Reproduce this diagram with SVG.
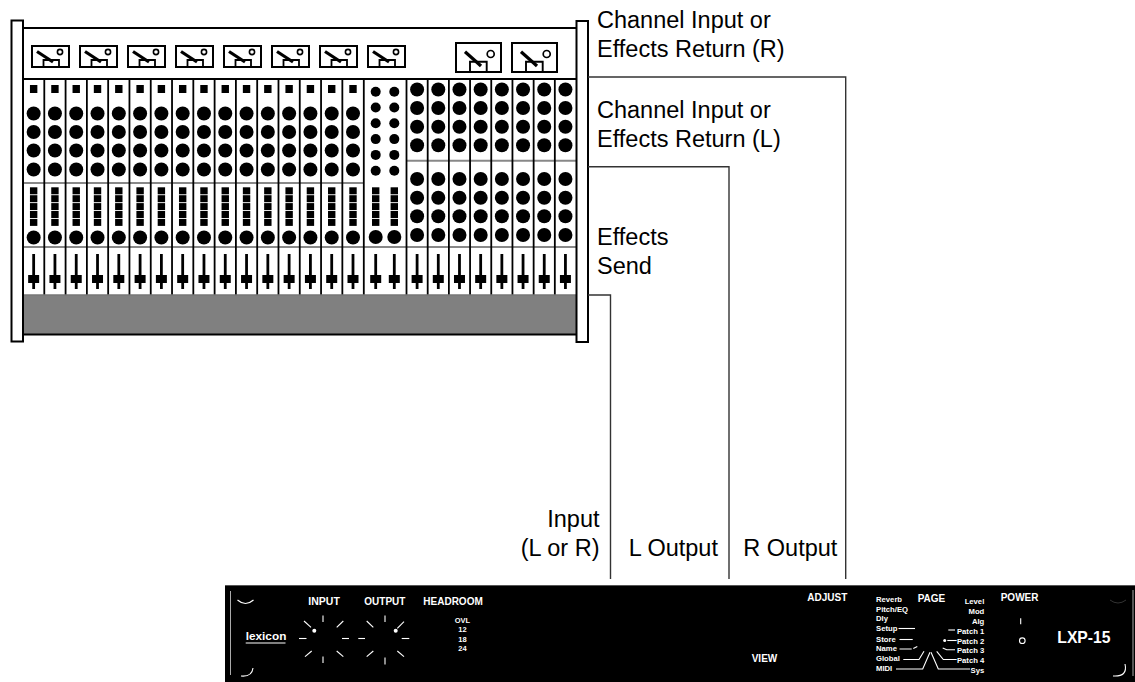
<svg xmlns="http://www.w3.org/2000/svg" width="1135" height="682" viewBox="0 0 1135 682">
<style>
.lbl{font-family:"Liberation Sans",Arial,sans-serif;font-size:23.5px;fill:#000}
.pt{font-family:"Liberation Sans",Arial,sans-serif;font-weight:bold;fill:#fff}
.s10{font-size:10px}
.s7{font-size:7.7px}
.sep{stroke:#888;stroke-width:2}
.vb{stroke:#000;stroke-width:1.8}
.conn{fill:none;stroke:#333;stroke-width:1.4}
.w{stroke:#fff;stroke-width:1.1;fill:none}
.mbox{fill:#fff;stroke:#000;stroke-width:2}
</style>
<defs>
  <g id="fd">
    <line x1="0" y1="254" x2="0" y2="289" stroke="#000" stroke-width="2.8"/>
    <rect x="-5.5" y="275" width="11" height="8"/>
  </g>
  <g id="ms">
    <rect x="-3.7" y="187.3" width="7.4" height="7"/>
    <rect x="-3.7" y="195.2" width="7.4" height="7"/>
    <rect x="-3.7" y="203.1" width="7.4" height="7"/>
    <rect x="-3.7" y="211" width="7.4" height="7"/>
    <rect x="-3.7" y="218.9" width="7.4" height="7"/>
  </g>
  <g id="mono">
    <rect x="-3.7" y="85" width="7.4" height="8"/>
    <circle cx="0" cy="113.5" r="7"/>
    <circle cx="0" cy="132" r="7"/>
    <circle cx="0" cy="150.5" r="7"/>
    <circle cx="0" cy="169.5" r="7"/>
    <use href="#ms"/>
    <circle cx="0" cy="237.5" r="7"/>
    <use href="#fd"/>
  </g>
  <g id="rs">
    <circle cx="0" cy="89.5" r="7"/>
    <circle cx="0" cy="108" r="7"/>
    <circle cx="0" cy="126.7" r="7"/>
    <circle cx="0" cy="145.3" r="7"/>
    <circle cx="0" cy="179" r="7"/>
    <circle cx="0" cy="197.7" r="7"/>
    <circle cx="0" cy="216.3" r="7"/>
    <circle cx="0" cy="235" r="7"/>
    <use href="#fd"/>
  </g>
  <g id="mcol">
    <circle cx="0" cy="91.7" r="5"/>
    <circle cx="0" cy="107.5" r="5"/>
    <circle cx="0" cy="123.3" r="5"/>
    <circle cx="0" cy="139.1" r="5"/>
    <circle cx="0" cy="154.9" r="5"/>
    <circle cx="0" cy="170.7" r="5"/>
    <use href="#ms"/>
    <circle cx="0" cy="237" r="7"/>
    <use href="#fd"/>
  </g>
  <g id="meterS">
    <rect class="mbox" x="0" y="0" width="37" height="21"/>
    <line x1="5" y1="5.5" x2="21" y2="16" stroke="#000" stroke-width="3.2"/>
    <path d="M11.5,21 V14 H27 V21" fill="none" stroke="#000" stroke-width="1.8"/>
    <circle cx="28" cy="6" r="2.6" fill="none" stroke="#000" stroke-width="1.6"/>
  </g>
  <g id="meterL">
    <rect class="mbox" x="0" y="0" width="45" height="29"/>
    <line x1="9" y1="8.7" x2="25" y2="23" stroke="#000" stroke-width="3.2"/>
    <path d="M14,29 V18.7 H30.7 V29" fill="none" stroke="#000" stroke-width="1.9"/>
    <circle cx="34.7" cy="11" r="3.5" fill="none" stroke="#000" stroke-width="1.7"/>
  </g>
</defs>

<g id="mixer">
  <rect x="23" y="28" width="553" height="51" fill="#fff"/>
  <line x1="23" y1="28" x2="576" y2="28" stroke="#000" stroke-width="2"/>
  <rect x="23" y="79" width="553" height="216" fill="#fff"/>
  <line x1="23" y1="79" x2="576" y2="79" stroke="#000" stroke-width="2"/>
  <g id="meters">
    <use href="#meterS" x="32" y="46"/>
    <use href="#meterS" x="80" y="46"/>
    <use href="#meterS" x="128" y="46"/>
    <use href="#meterS" x="176" y="46"/>
    <use href="#meterS" x="224" y="46"/>
    <use href="#meterS" x="272" y="46"/>
    <use href="#meterS" x="320" y="46"/>
    <use href="#meterS" x="368" y="46"/>
    <use href="#meterL" x="456" y="43"/>
    <use href="#meterL" x="512" y="43"/>
  </g>
  <g id="separators">
    <line class="sep" x1="23" y1="183" x2="364" y2="183"/>
    <line class="sep" x1="406.5" y1="160.7" x2="576" y2="160.7"/>
    <line class="sep" x1="23" y1="247" x2="576" y2="247"/>
  </g>
  <g id="strip-borders">
    <line class="vb" x1="44.29" y1="79" x2="44.29" y2="295"/>
    <line class="vb" x1="65.58" y1="79" x2="65.58" y2="295"/>
    <line class="vb" x1="86.87" y1="79" x2="86.87" y2="295"/>
    <line class="vb" x1="108.16" y1="79" x2="108.16" y2="295"/>
    <line class="vb" x1="129.45" y1="79" x2="129.45" y2="295"/>
    <line class="vb" x1="150.74" y1="79" x2="150.74" y2="295"/>
    <line class="vb" x1="172.03" y1="79" x2="172.03" y2="295"/>
    <line class="vb" x1="193.32" y1="79" x2="193.32" y2="295"/>
    <line class="vb" x1="214.61" y1="79" x2="214.61" y2="295"/>
    <line class="vb" x1="235.9" y1="79" x2="235.9" y2="295"/>
    <line class="vb" x1="257.19" y1="79" x2="257.19" y2="295"/>
    <line class="vb" x1="278.48" y1="79" x2="278.48" y2="295"/>
    <line class="vb" x1="299.77" y1="79" x2="299.77" y2="295"/>
    <line class="vb" x1="321.06" y1="79" x2="321.06" y2="295"/>
    <line class="vb" x1="342.35" y1="79" x2="342.35" y2="295"/>
    <line class="vb" x1="363.8" y1="79" x2="363.8" y2="295"/>
    <line class="vb" x1="406.5" y1="79" x2="406.5" y2="295"/>
    <line class="vb" x1="427.69" y1="79" x2="427.69" y2="295"/>
    <line class="vb" x1="448.88" y1="79" x2="448.88" y2="295"/>
    <line class="vb" x1="470.07" y1="79" x2="470.07" y2="295"/>
    <line class="vb" x1="491.26" y1="79" x2="491.26" y2="295"/>
    <line class="vb" x1="512.45" y1="79" x2="512.45" y2="295"/>
    <line class="vb" x1="533.64" y1="79" x2="533.64" y2="295"/>
    <line class="vb" x1="554.83" y1="79" x2="554.83" y2="295"/>
  </g>
  <g id="mono-strips">
    <use href="#mono" x="33.65"/>
    <use href="#mono" x="54.94"/>
    <use href="#mono" x="76.23"/>
    <use href="#mono" x="97.52"/>
    <use href="#mono" x="118.81"/>
    <use href="#mono" x="140.1"/>
    <use href="#mono" x="161.39"/>
    <use href="#mono" x="182.68"/>
    <use href="#mono" x="203.97"/>
    <use href="#mono" x="225.26"/>
    <use href="#mono" x="246.55"/>
    <use href="#mono" x="267.84"/>
    <use href="#mono" x="289.13"/>
    <use href="#mono" x="310.42"/>
    <use href="#mono" x="331.71"/>
    <use href="#mono" x="353"/>
  </g>
  <g id="master">
    <use href="#mcol" x="375.7"/>
    <use href="#mcol" x="394.3"/>
  </g>
  <g id="stereo-strips">
    <use href="#rs" x="417.1"/>
    <use href="#rs" x="438.29"/>
    <use href="#rs" x="459.48"/>
    <use href="#rs" x="480.67"/>
    <use href="#rs" x="501.86"/>
    <use href="#rs" x="523.05"/>
    <use href="#rs" x="544.24"/>
    <use href="#rs" x="565.43"/>
  </g>
  <rect x="23" y="295" width="553" height="39" fill="#808080"/>
  <line x1="23" y1="295" x2="576" y2="295" stroke="#777" stroke-width="1.5"/>
  <line x1="23" y1="334.5" x2="576" y2="334.5" stroke="#000" stroke-width="2"/>
  <rect x="11.5" y="20.5" width="11.5" height="321" fill="#fff" stroke="#000" stroke-width="2"/>
  <rect x="576.5" y="21" width="11.5" height="321" fill="#fff" stroke="#000" stroke-width="2"/>
</g>

<g id="connectors">
  <path class="conn" d="M588,77 H845.7 V579"/>
  <path class="conn" d="M588,166.7 H729 V579"/>
  <path class="conn" d="M588,295 H610.5 V579"/>
</g>

<g id="labels">
  <text class="lbl" x="597" y="28">Channel Input or</text>
  <text class="lbl" x="597" y="57">Effects Return (R)</text>
  <text class="lbl" x="597" y="118">Channel Input or</text>
  <text class="lbl" x="597" y="147">Effects Return (L)</text>
  <text class="lbl" x="597" y="245">Effects</text>
  <text class="lbl" x="597" y="273.5">Send</text>
  <text class="lbl" x="599.5" y="527" text-anchor="end">Input</text>
  <text class="lbl" x="599.5" y="555.5" text-anchor="end">(L or R)</text>
  <text class="lbl" x="628.7" y="555.5">L Output</text>
  <text class="lbl" x="743.3" y="555.5">R Output</text>
</g>

<g id="lxp15">
  <rect x="225" y="585" width="910" height="97" fill="#000"/>
  <line x1="225" y1="585.5" x2="1135" y2="585.5" stroke="#555" stroke-width="1"/>
  <line x1="230.5" y1="591" x2="230.5" y2="675" stroke="#aaa" stroke-width="1"/>
  <line x1="1133" y1="590" x2="1133" y2="676" stroke="#aaa" stroke-width="1"/>
  <path class="w" d="M237.5,600 Q245.5,607 253.5,600"/>
  <path class="w" d="M241,676 Q252,677 253,668"/>
  <path d="M1110,600 Q1118,606 1126,600" fill="none" stroke="#333" stroke-width="1"/>
  <path class="w" d="M1113,676 Q1128,677 1125,664"/>

  <text class="pt" x="245.7" y="639.5" font-size="11.8">lexicon</text>
  <line class="w" x1="245.7" y1="643" x2="285.5" y2="643" stroke-width="1.2"/>

  <text class="pt" x="308.3" y="605" font-size="10.5">INPUT</text>
  <text class="pt s10" x="364.3" y="605">OUTPUT</text>
  <text class="pt s10" x="423.3" y="605">HEADROOM</text>
  <g text-anchor="middle">
    <text class="pt" x="462.5" y="622.7" font-size="7.5">OVL</text>
    <text class="pt" x="462.5" y="632.3" font-size="7.5">12</text>
    <text class="pt" x="462.5" y="641.7" font-size="7.5">18</text>
    <text class="pt" x="462.5" y="651" font-size="7.5">24</text>
  </g>

  <g id="knob-input" class="w" stroke-width="1.2">
    <line x1="323" y1="615.5" x2="323" y2="622"/>
    <line x1="323" y1="656.5" x2="323" y2="663"/>
    <line x1="299" y1="638.5" x2="306.5" y2="638.5"/>
    <line x1="342" y1="638.5" x2="349" y2="638.5"/>
    <line x1="304" y1="621" x2="311" y2="627.3"/>
    <line x1="336.7" y1="627.3" x2="343.3" y2="621"/>
    <line x1="305" y1="656.7" x2="311.7" y2="651"/>
    <line x1="336.7" y1="651" x2="343.3" y2="656.7"/>
  </g>
  <circle cx="314.3" cy="630.7" r="2" fill="#fff"/>

  <g id="knob-output" class="w" stroke-width="1.2">
    <line x1="385" y1="615.5" x2="385" y2="622"/>
    <line x1="385" y1="657.5" x2="385" y2="664.5"/>
    <line x1="358.3" y1="638.5" x2="365" y2="638.5"/>
    <line x1="401.7" y1="638.5" x2="409.3" y2="638.5"/>
    <line x1="366.7" y1="621" x2="373.3" y2="627.3"/>
    <line x1="397.3" y1="628.3" x2="404" y2="621.7"/>
    <line x1="366.7" y1="656.7" x2="373.3" y2="651"/>
    <line x1="397.3" y1="651" x2="404" y2="656.7"/>
  </g>
  <circle cx="395.7" cy="630.7" r="2" fill="#fff"/>

  <text class="pt s10" x="751.7" y="661.7">VIEW</text>
  <text class="pt s10" x="807.3" y="601">ADJUST</text>
  <text class="pt s10" x="917.7" y="601.7">PAGE</text>
  <text class="pt s10" x="1000.7" y="601">POWER</text>
  <text class="pt" x="1057.3" y="643.3" font-size="15.7">LXP-15</text>
  <line class="w" x1="1020.7" y1="618.3" x2="1020.7" y2="624.3" stroke-width="1.3"/>
  <circle class="w" cx="1022.3" cy="640.7" r="2.8" stroke-width="1.2"/>

  <g id="page-left">
    <text class="pt s7" x="876" y="602.3">Reverb</text>
    <text class="pt s7" x="876" y="611.7">Pitch/EQ</text>
    <text class="pt s7" x="876" y="621.3">Dly</text>
    <text class="pt s7" x="876" y="631">Setup</text>
    <text class="pt s7" x="876" y="641.5">Store</text>
    <text class="pt s7" x="876" y="651">Name</text>
    <text class="pt s7" x="876" y="661">Global</text>
    <text class="pt s7" x="876" y="670.7">MIDI</text>
  </g>
  <g id="page-right" text-anchor="end">
    <text class="pt s7" x="984.3" y="604.3">Level</text>
    <text class="pt s7" x="984.3" y="614.3">Mod</text>
    <text class="pt s7" x="984.3" y="623.8">Alg</text>
    <text class="pt s7" x="984.3" y="634">Patch 1</text>
    <text class="pt s7" x="984.3" y="644">Patch 2</text>
    <text class="pt s7" x="984.3" y="653.3">Patch 3</text>
    <text class="pt s7" x="984.3" y="663.3">Patch 4</text>
    <text class="pt s7" x="984.3" y="672.7">Sys</text>
  </g>
  <g id="page-lines" class="w" stroke-width="1">
    <path d="M898.5,628.5 H915"/>
    <path d="M899.5,639.5 H912.7"/>
    <path d="M899.5,649 H911.7 M913.3,648.5 L917.3,646.5"/>
    <path d="M903.3,659.5 H919 L924,651.3"/>
    <path d="M896,669 H922.7 L930,652.3"/>
    <path d="M931,652.3 L938.3,669 H970"/>
    <path d="M936.7,651.3 L943.3,659.5 H956.7"/>
    <path d="M942.7,648 L946.7,649.7 H955"/>
    <path d="M947.3,640.5 H956.7"/>
    <path d="M948.3,630 H955"/>
  </g>
  <circle cx="944.7" cy="640.5" r="1.5" fill="#fff"/>
</g>
</svg>
